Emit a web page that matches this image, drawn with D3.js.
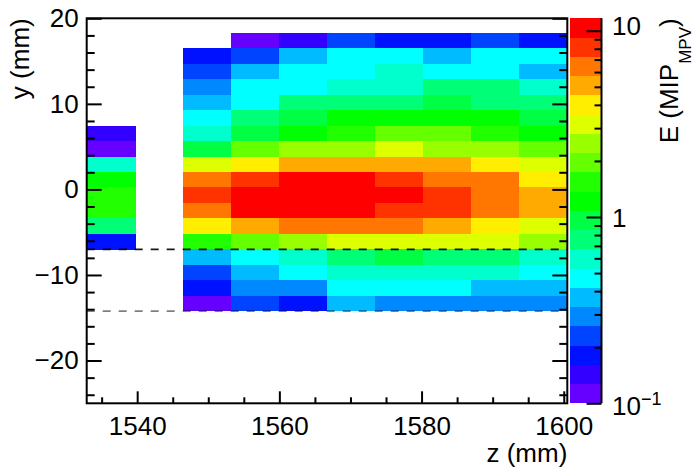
<!DOCTYPE html>
<html><head><meta charset="utf-8">
<script src="https://cdn.jsdelivr.net/npm/d3@7"></script>
<style>
html,body{margin:0;padding:0;background:#fff;}
svg text{font-family:"Liberation Sans",Arial,Helvetica,sans-serif;fill:#000;}
</style></head>
<body>
<svg id="c" width="694" height="474"></svg>
<script>
// ---- data ----
const zRange = [1532.9, 1600.5];          // mm
const yRange = [-25, 20];                 // mm
const zMajorTicks = [1540, 1560, 1580, 1600];
const zMinorTicks = [1535, 1545, 1550, 1555, 1565, 1570, 1575, 1585, 1590, 1595];
const yMajorTicks = [-20, -10, 0, 10, 20];
const yMinorTicks = [-24,-22,-18,-16,-14,-12,-8,-6,-4,-2,2,4,6,8,12,14,16,18];
const eRange = [0.1, 11.66];
const eMajorTicks = [0.1, 1, 10];
const eMinorTicks = [0.2,0.3,0.4,0.5,0.6,0.7,0.8,0.9,2,3,4,5,6,7,8,9];
const binWidthZ = 6.76;
const binHeightY = 1.806;
const zCenters = [1536.28, 1549.80, 1556.56, 1563.32, 1570.08, 1576.84, 1583.60, 1590.36, 1597.12];
const yCenters = [17.387, 15.581, 13.775, 11.969, 10.163, 8.357, 6.551, 4.745, 2.939, 1.133,
                  -0.673, -2.479, -4.285, -6.091, -7.897, -9.703, -11.509, -13.315];
const dashedY = [-7.0, -14.22];
// energy (MIP_MPV) per z column, rows top -> bottom (null = empty)
const eCol1536 = [null,null,null,null,null,null,0.14,0.11,0.6,1.2,1.55,1.55,0.76,0.18,null,null,null,null];
const eCol1550 = [null,0.18,0.23,0.29,0.37,0.47,0.6,0.96,3.15,6.4,8.2,6.4,4.0,1.55,0.37,0.23,0.18,0.11];
const eCol1557 = [0.11,0.23,0.37,0.47,0.47,0.76,0.96,1.95,4.0,8.2,10.3,10.3,5.1,1.95,0.47,0.37,0.29,0.23];
const eCol1563 = [0.14,0.37,0.47,0.47,0.76,0.96,1.2,2.5,5.1,10.3,10.3,10.3,6.4,2.5,0.6,0.47,0.29,0.18];
const eCol1570 = [0.23,0.47,0.47,0.6,0.76,1.2,1.55,2.5,5.1,10.3,10.3,10.3,6.4,3.15,0.76,0.6,0.47,0.37];
const eCol1577 = [0.18,0.47,0.6,0.6,0.76,1.2,1.95,3.15,5.1,8.2,10.3,8.2,6.4,3.15,0.96,0.6,0.47,0.29];
const eCol1584 = [0.18,0.37,0.47,0.76,0.96,1.2,1.95,2.5,5.1,6.4,8.2,8.2,5.1,3.15,0.76,0.6,0.47,0.29];
const eCol1590 = [0.23,0.47,0.47,0.76,0.76,1.2,1.55,2.5,4.0,6.4,6.4,6.4,4.0,3.15,0.76,0.6,0.37,0.29];
const eCol1597 = [0.18,0.47,0.37,0.6,0.76,0.96,1.2,1.95,3.15,4.0,5.1,5.1,3.15,2.5,0.6,0.47,0.37,0.29];
const energyColumns = [eCol1536,eCol1550,eCol1557,eCol1563,eCol1570,eCol1577,eCol1584,eCol1590,eCol1597];
const palette = ["#6600ff","#3300ff","#0011ff","#0044ff","#0088ff","#00bbff","#00ffff","#00ffcc",
                 "#00ff77","#00ff44","#00ff00","#22ff00","#66ff00","#99ff00","#ddff00","#ffee00",
                 "#ffaa00","#ff7700","#ff3300","#ff0000"];

// ---- layout ----
const L = 86.7, R = 567.3, T = 18.3, B = 403.3;
const barL = 570, barR = 601.5;
const FS = 26;

const svg = d3.select("#c");
const x = d3.scaleLinear().domain(zRange).range([L, R]);
const y = d3.scaleLinear().domain(yRange).range([B, T]);
const eY = d3.scaleLog().domain(eRange).range([B, T]);
const color = d3.scaleQuantize()
  .domain([Math.log10(eRange[0]), Math.log10(eRange[1])])
  .range(palette);

// cells (1px overlap so neighbouring cells never show a seam)
const cells = [];
energyColumns.forEach((col, ci) => col.forEach((v, ri) => {
  if (v != null) cells.push({z: zCenters[ci], y: yCenters[ri], v, ci, ri});
}));
const px = v => Math.round(v);
const lastRow = yCenters.length - 1, lastCol = zCenters.length - 1;
svg.append("g").selectAll("rect").data(cells).join("rect")
  .attr("x", d => px(x(d.z - binWidthZ/2)))
  .attr("width", d => px(x(d.z + binWidthZ/2)) - px(x(d.z - binWidthZ/2)) + (d.ci < lastCol ? 1 : 0))
  .attr("y", d => px(y(d.y + binHeightY/2)))
  .attr("height", d => px(y(d.y - binHeightY/2)) - px(y(d.y + binHeightY/2)) + (d.ri < lastRow ? 1 : 0))
  .attr("fill", d => color(Math.log10(d.v)))
  .attr("shape-rendering", "crispEdges");

// dashed lines
svg.append("g").selectAll("line").data(dashedY).join("line")
  .attr("x1", L).attr("x2", R)
  .attr("y1", d => y(d)).attr("y2", d => y(d))
  .attr("stroke", "#000")
  .attr("stroke-opacity", (d, i) => i === 0 ? 0.9 : 0.5)
  .attr("stroke-width", 1.8)
  .attr("stroke-dasharray", "8,8");

function styleAxis(g) {
  g.select(".domain").remove();
  g.selectAll(".tick line").attr("stroke", "#000").attr("stroke-width", 2);
  g.selectAll("text").style("font-size", FS + "px").attr("fill", "#000");
}

// x axis
svg.append("g").attr("transform", `translate(0,${B})`)
  .call(d3.axisBottom(x).tickValues(zMajorTicks).tickSizeInner(-12).tickSizeOuter(0)
        .tickPadding(13.5).tickFormat(d3.format("d")))
  .call(styleAxis);
svg.append("g").attr("transform", `translate(0,${B})`)
  .call(d3.axisBottom(x).tickValues(zMinorTicks).tickSizeInner(-6).tickSizeOuter(0).tickFormat(""))
  .call(styleAxis);

// y axis left
svg.append("g").attr("transform", `translate(${L},0)`)
  .call(d3.axisLeft(y).tickValues(yMajorTicks).tickSizeInner(-15).tickSizeOuter(0)
        .tickPadding(8).tickFormat(d3.format("d")))
  .call(styleAxis);
svg.append("g").attr("transform", `translate(${L},0)`)
  .call(d3.axisLeft(y).tickValues(yMinorTicks).tickSizeInner(-8).tickSizeOuter(0).tickFormat(""))
  .call(styleAxis);
// y axis right
svg.append("g").attr("transform", `translate(${R},0)`)
  .call(d3.axisRight(y).tickValues(yMajorTicks).tickSizeInner(-15).tickSizeOuter(0).tickFormat(""))
  .call(styleAxis);
svg.append("g").attr("transform", `translate(${R},0)`)
  .call(d3.axisRight(y).tickValues(yMinorTicks).tickSizeInner(-8).tickSizeOuter(0).tickFormat(""))
  .call(styleAxis);

// frame
svg.append("rect").attr("x", L).attr("y", T).attr("width", R - L).attr("height", B - T)
  .attr("fill", "none").attr("stroke", "#000").attr("stroke-width", 2);

// color bar
const bands = palette.map((c, i) => {
  const [a, b] = color.invertExtent(c);
  return {c, lo: Math.pow(10, a), hi: Math.pow(10, b)};
});
svg.append("g").selectAll("rect").data(bands).join("rect")
  .attr("x", barL).attr("width", barR - barL)
  .attr("y", d => px(eY(d.hi))).attr("height", d => px(eY(d.lo)) - px(eY(d.hi)))
  .attr("fill", d => d.c).attr("shape-rendering", "crispEdges");
svg.append("line").attr("x1", barR).attr("x2", barR).attr("y1", T).attr("y2", B)
  .attr("stroke", "#000").attr("stroke-width", 2);
svg.append("g").attr("transform", `translate(${barR},0)`)
  .call(d3.axisLeft(eY).tickValues(eMajorTicks).tickSizeInner(15).tickSizeOuter(0).tickFormat(""))
  .call(styleAxis);
svg.append("g").attr("transform", `translate(${barR},0)`)
  .call(d3.axisLeft(eY).tickValues(eMinorTicks).tickSizeInner(7).tickSizeOuter(0).tickFormat(""))
  .call(styleAxis);

// color bar labels
const lab = svg.append("g").style("font-size", FS + "px");
lab.append("text").attr("x", 612).attr("y", eY(10) + 4).text("10");
lab.append("text").attr("x", 612).attr("y", eY(1) + 10).text("1");
const t01 = lab.append("text").attr("x", 612).attr("y", eY(0.1) + 12);
t01.append("tspan").text("10");
t01.append("tspan").attr("dy", -10).style("font-size", "18px").text("\u22121");

// axis titles
svg.append("text").attr("x", R).attr("y", 462).attr("text-anchor", "end")
  .style("font-size", FS + "px").text("z (mm)");
svg.append("text").attr("transform", `translate(29,${T}) rotate(-90)`).attr("text-anchor", "end")
  .style("font-size", FS + "px").text("y (mm)");
const et = svg.append("text").attr("transform", `translate(678,${T}) rotate(-90)`)
  .attr("text-anchor", "end").style("font-size", FS + "px");
et.append("tspan").text("E (MIP");
et.append("tspan").attr("dy", 13).style("font-size", "17px").text("MPV");
et.append("tspan").attr("dy", -13).text(")");
</script>
</body></html>
